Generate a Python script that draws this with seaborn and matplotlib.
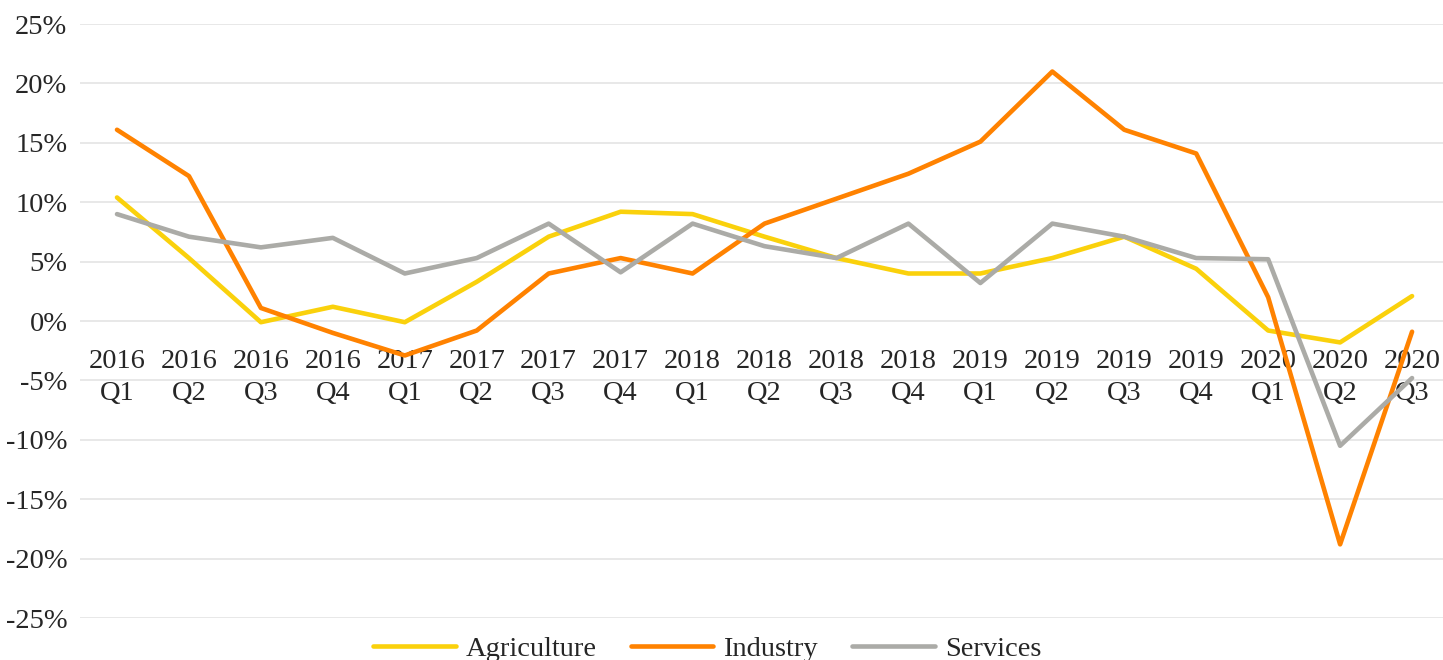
import matplotlib
matplotlib.use("Agg")
import matplotlib.pyplot as plt
import seaborn as sns
import pandas as pd
from matplotlib.ticker import FuncFormatter, MultipleLocator

quarters = ["2016\nQ1", "2016\nQ2", "2016\nQ3", "2016\nQ4",
            "2017\nQ1", "2017\nQ2", "2017\nQ3", "2017\nQ4",
            "2018\nQ1", "2018\nQ2", "2018\nQ3", "2018\nQ4",
            "2019\nQ1", "2019\nQ2", "2019\nQ3", "2019\nQ4",
            "2020\nQ1", "2020\nQ2", "2020\nQ3"]

agriculture = [10.4, 5.3, -0.1, 1.2, -0.1, 3.3, 7.1, 9.2, 9.0, 7.1,
               5.3, 4.0, 4.0, 5.3, 7.1, 4.4, -0.8, -1.8, 2.1]
industry = [16.1, 12.2, 1.1, -1.0, -2.9, -0.8, 4.0, 5.3, 4.0, 8.2,
            10.3, 12.4, 15.1, 21.0, 16.1, 14.1, 2.0, -18.8, -0.9]
services = [9.0, 7.1, 6.2, 7.0, 4.0, 5.3, 8.2, 4.1, 8.2, 6.3,
            5.3, 8.2, 3.2, 8.2, 7.1, 5.3, 5.2, -10.5, -4.8]

series_names = ["Agriculture", "Industry", "Services"]
colors = {"Agriculture": "#FAD10C", "Industry": "#FF8200", "Services": "#ABABA7"}

rows = []
for name, vals in zip(series_names, [agriculture, industry, services]):
    for i, v in enumerate(vals):
        rows.append({"idx": i, "value": v, "Sector": name})
df = pd.DataFrame(rows)

sns.set_theme(style="white")
plt.rcParams["font.family"] = ["Liberation Serif", "DejaVu Serif"]
text_color = "#262626"
fs = 20.5

fig = plt.figure(figsize=(14.43, 6.6), dpi=100)
ax = fig.add_axes([0.0554, 0.0636, 0.9446, 0.9])

sns.lineplot(data=df, x="idx", y="value", hue="Sector", palette=colors,
             hue_order=series_names, linewidth=3.3, ax=ax, legend=False)

ax.set_ylim(-25, 25)
ax.set_xlim(-0.515, 18.43)
ax.yaxis.set_major_locator(MultipleLocator(5))
ax.yaxis.set_major_formatter(FuncFormatter(lambda v, p: f"{v:.0f}%"))
ax.grid(axis="y", color="#E6E6E6", linewidth=1.3)
ax.set_axisbelow(True)
for s in ax.spines.values():
    s.set_visible(False)
ax.spines["bottom"].set_position(("data", 0))

ax.set_xticks(range(len(quarters)))
ax.set_xticklabels(quarters, fontsize=fs, color=text_color, linespacing=1.4)
ax.tick_params(axis="x", length=0, pad=20)
ax.tick_params(axis="y", length=0, pad=9, labelsize=fs, labelcolor=text_color)
ax.set_xlabel("")
ax.set_ylabel("")

handles = [plt.Line2D([], [], color=colors[n], linewidth=3.3) for n in series_names]
fig.legend(handles, series_names, loc="center", bbox_to_anchor=(0.49, 0.016),
           ncol=3, frameon=False, fontsize=fs, handlelength=2.9,
           columnspacing=1.2, handletextpad=0.35, labelcolor=text_color)

fig.savefig("out.png", dpi=100)
